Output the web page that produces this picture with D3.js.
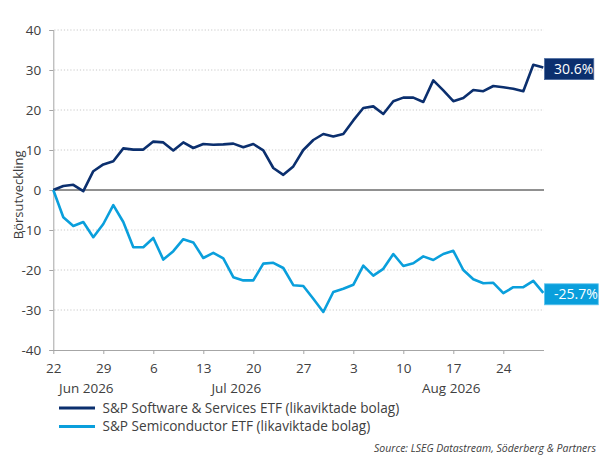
<!DOCTYPE html>
<html><head><meta charset="utf-8">
<script src="https://cdn.jsdelivr.net/npm/d3@7"></script>
<style>
body{margin:0;background:#fff;}
svg{display:block;font-family:"Open Sans",Lato,sans-serif;}
</style></head>
<body><svg id="c" width="599" height="457"></svg>
<script>
// Trading days (Mon-Fri), 22 Jun 2026 – 28 Aug 2026
const dates = [
 "2026-06-22","2026-06-23","2026-06-24","2026-06-25","2026-06-26",
 "2026-06-29","2026-06-30","2026-07-01","2026-07-02","2026-07-03",
 "2026-07-06","2026-07-07","2026-07-08","2026-07-09","2026-07-10",
 "2026-07-13","2026-07-14","2026-07-15","2026-07-16","2026-07-17",
 "2026-07-20","2026-07-21","2026-07-22","2026-07-23","2026-07-24",
 "2026-07-27","2026-07-28","2026-07-29","2026-07-30","2026-07-31",
 "2026-08-03","2026-08-04","2026-08-05","2026-08-06","2026-08-07",
 "2026-08-10","2026-08-11","2026-08-12","2026-08-13","2026-08-14",
 "2026-08-17","2026-08-18","2026-08-19","2026-08-20","2026-08-21",
 "2026-08-24","2026-08-25","2026-08-26","2026-08-27","2026-08-28"];
const software = [0,1.0,1.3,-0.3,4.7,6.4,7.2,10.4,10.1,10.1,
 12.1,11.9,9.9,11.9,10.5,11.5,11.3,11.4,11.6,10.7,
 11.5,9.9,5.5,3.8,5.9,10.0,12.5,14.0,13.4,14.0,
 17.4,20.5,20.9,19.0,22.2,23.1,23.1,22.0,27.4,24.9,
 22.2,23.0,25.0,24.7,26.0,25.7,25.3,24.7,31.3,30.6];
const semis = [0,-6.8,-9.0,-8.0,-11.8,-8.5,-3.8,-8.0,-14.3,-14.3,
 -12.0,-17.4,-15.3,-12.3,-13.1,-17.0,-15.7,-17.1,-21.8,-22.6,
 -22.6,-18.4,-18.2,-19.5,-23.8,-24.0,-27.2,-30.5,-25.5,-24.7,
 -23.7,-18.9,-21.4,-19.7,-16.0,-19.0,-18.3,-16.6,-17.5,-16.0,
 -15.2,-20.0,-22.3,-23.3,-23.2,-25.8,-24.3,-24.3,-22.7,-25.7];
const seriesNames = ["S&P Software & Services ETF (likaviktade bolag)","S&P Semiconductor ETF (likaviktade bolag)"];
const yTicks = [-40,-30,-20,-10,0,10,20,30,40];
const xTickDates = ["2026-06-22","2026-06-29","2026-07-06","2026-07-13","2026-07-20","2026-07-27","2026-08-03","2026-08-10","2026-08-17","2026-08-24"];
const monthLabels = ["Jun 2026","Jul 2026","Aug 2026"];
const yTitle = "Börsutveckling";
const source = "Source: LSEG Datastream, Söderberg & Partners";

const colors = ["#0b2f6e","#0a9fdc"];
const svg = d3.select("#c");
const x = d3.scalePoint().domain(dates).range([53.3, 543.3]);
const y = d3.scaleLinear().domain([-40,40]).range([350,30]);
const xL = 53.3, xR = 544;
const txt = "#404040";
const fmt = v => d3.format(".1f")(v).replace("\u2212","-");

// gridlines
svg.append("g").selectAll("line").data(yTicks.filter(d=>d!==0 && d!==-40)).join("line")
  .attr("x1",xL+1).attr("x2",xR).attr("y1",d=>y(d)).attr("y2",d=>y(d))
  .attr("stroke","#c8c8c8").attr("stroke-width",1).attr("stroke-dasharray","1.2,2");

// y axis
const ya = svg.append("g").attr("transform",`translate(${xL},0)`)
  .call(d3.axisLeft(y).tickValues(yTicks).tickSize(4).tickPadding(8).tickFormat(d=>String(d)));
ya.select(".domain").attr("stroke","#a6a6a6");
ya.selectAll(".tick line").attr("stroke","#a6a6a6");
ya.selectAll("text").attr("fill",txt).attr("font-size",13.5).attr("font-family","Open Sans");

// x axis
const xa = svg.append("g").attr("transform",`translate(0,${y(-40)})`)
  .call(d3.axisBottom(x).tickValues(xTickDates).tickSize(4).tickPadding(9)
    .tickFormat(d=>+d.slice(8,10)));
xa.select(".domain").attr("stroke","#a6a6a6").attr("d",`M${xL},0.5H${xR}`);
xa.selectAll(".tick line").attr("stroke","#a6a6a6");
xa.selectAll("text").attr("fill",txt).attr("font-size",13.5).attr("font-family","Open Sans");

// month labels
const months = d3.groups(dates, d=>d.slice(0,7));
svg.append("g").selectAll("text").data(months).join("text")
  .attr("x",(m)=> (x(m[1][0]) + x(m[1][m[1].length-1]))/2 + 3)
  .attr("y",393).attr("text-anchor","middle").attr("fill",txt).attr("font-size",13.5)
  .text((m,i)=>monthLabels[i]);

// zero line
svg.append("line").attr("x1",xL).attr("x2",xR).attr("y1",y(0)).attr("y2",y(0))
  .attr("stroke","#222").attr("stroke-width",1);

// y title
svg.append("text").attr("transform",`translate(23,${y(-1.2)}) rotate(-90)`)
  .attr("text-anchor","middle").attr("fill",txt).attr("font-size",13).text(yTitle);

// lines
const line = d3.line().x((d,i)=>x(dates[i])).y(d=>y(d));
[software, semis].forEach((s,k)=>{
  svg.append("path").datum(s).attr("d",line).attr("fill","none")
    .attr("stroke",colors[k]).attr("stroke-width",2.6).attr("stroke-linejoin","round");
});

// end labels
[software, semis].forEach((s,k)=>{
  const v = s[s.length-1];
  const cy = y(v)+1.5;
  const g = svg.append("g");
  const t = g.append("text").attr("x",554).attr("y",cy).attr("dy","0.36em")
    .attr("fill","#fff").attr("font-size",14).text(fmt(v)+"%");
  const w = t.node().getComputedTextLength();
  g.insert("rect","text").attr("x",544.5).attr("y",cy-10.5).attr("width",w+10).attr("height",21)
    .attr("fill",colors[k]).attr("stroke",k?"#5cc4ee":"#4a6aa0").attr("stroke-width",0.8);
});

// legend
const lg = svg.append("g");
seriesNames.forEach((n,k)=>{
  const ly = 408 + k*18.5;
  lg.append("line").attr("x1",59).attr("x2",95).attr("y1",ly).attr("y2",ly)
    .attr("stroke",colors[k]).attr("stroke-width",3);
  lg.append("text").attr("x",102.5).attr("y",ly).attr("dy","0.36em")
    .attr("fill",txt).attr("font-size",13.6).text(n);
});

// source
svg.append("text").attr("x",596).attr("y",448).attr("dy","0.36em").attr("text-anchor","end")
  .attr("font-style","italic").attr("fill",txt).attr("font-size",10.5).text(source);
</script></body></html>
